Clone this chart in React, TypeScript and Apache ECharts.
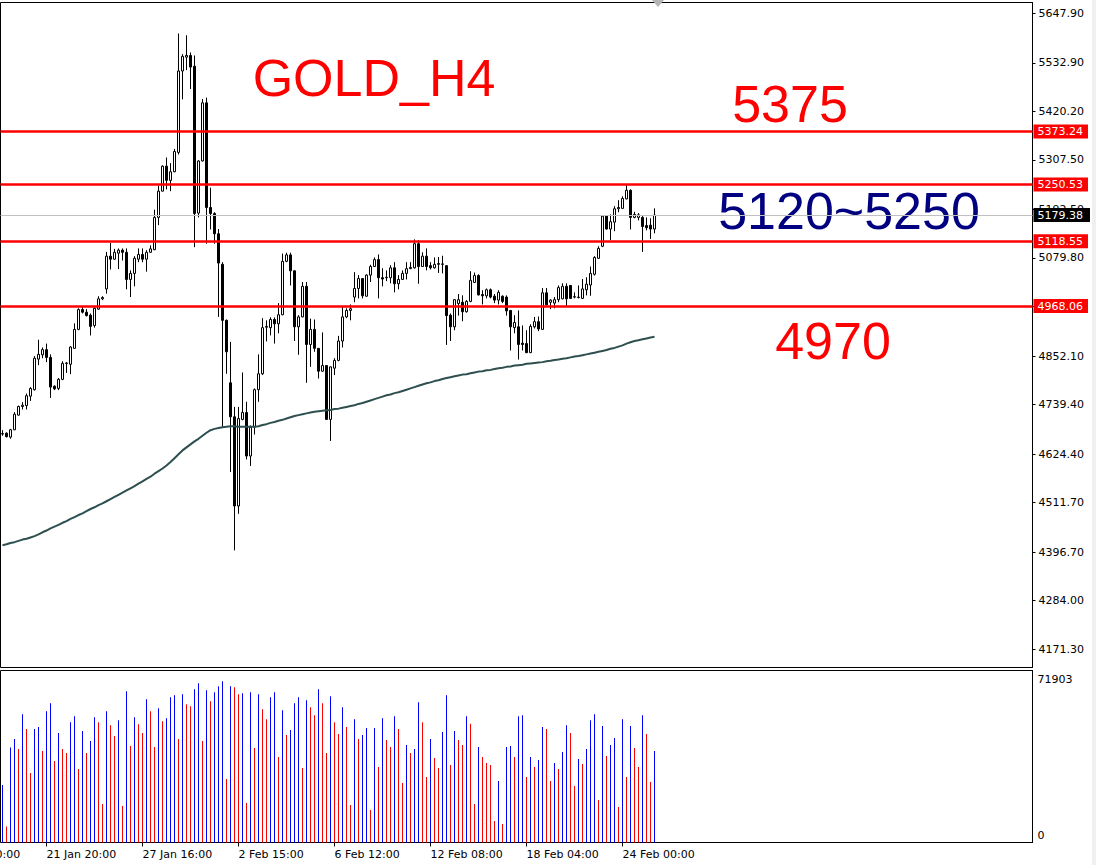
import React, { useEffect, useRef } from "react";
import * as echarts from "echarts";

// ---- data ----
const TOTAL_SLOTS = 258; // visible bar slots (right part left empty as chart shift)

// [open, close, low, high]
const ohlc: number[][] = [
  [4672, 4671, 4667, 4680], [4673, 4665, 4663, 4675], [4664, 4681, 4660, 4683], [4681, 4717, 4680, 4722],
  [4715, 4735, 4714, 4737], [4735, 4738, 4728, 4745], [4737, 4760, 4728, 4765], [4759, 4777, 4748, 4780],
  [4774, 4847, 4772, 4852], [4845, 4856, 4831, 4890], [4855, 4867, 4847, 4872], [4867, 4849, 4838, 4881],
  [4849, 4780, 4755, 4856], [4782, 4776, 4773, 4784], [4777, 4798, 4773, 4801], [4798, 4835, 4796, 4840],
  [4835, 4836, 4813, 4838], [4833, 4873, 4810, 4875], [4870, 4914, 4869, 4928], [4914, 4960, 4912, 4963],
  [4960, 4954, 4951, 4968], [4954, 4946, 4944, 4961], [4947, 4921, 4900, 4951], [4923, 4963, 4918, 4966],
  [4961, 4985, 4960, 4991], [4985, 4988, 4982, 4991], [5008, 5084, 4997, 5094], [5084, 5077, 5053, 5115],
  [5077, 5093, 5076, 5101], [5091, 5098, 5054, 5102], [5098, 5093, 5074, 5102], [5093, 5030, 5007, 5102],
  [5030, 5044, 4989, 5051], [5044, 5079, 5014, 5084], [5077, 5088, 5070, 5102], [5088, 5077, 5070, 5102],
  [5077, 5093, 5048, 5098], [5093, 5101, 5092, 5109], [5099, 5174, 5098, 5192], [5174, 5235, 5156, 5248],
  [5235, 5293, 5234, 5295], [5293, 5260, 5239, 5313], [5260, 5280, 5235, 5300], [5280, 5327, 5279, 5333],
  [5325, 5514, 5320, 5601], [5514, 5548, 5448, 5553], [5546, 5550, 5516, 5597], [5550, 5523, 5472, 5557],
  [5525, 5183, 5105, 5550], [5184, 5305, 5174, 5307], [5305, 5440, 5304, 5449], [5440, 5197, 5113, 5452],
  [5197, 5183, 5146, 5243], [5183, 5136, 5113, 5186], [5136, 5068, 4943, 5147], [5065, 4935, 4687, 5070],
  [4935, 4862, 4811, 4937], [4790, 4711, 4583, 4885], [4711, 4504, 4401, 4734], [4504, 4707, 4486, 4734],
  [4705, 4721, 4703, 4814], [4721, 4620, 4612, 4746], [4620, 4687, 4597, 4691], [4687, 4774, 4670, 4777],
  [4774, 4811, 4746, 4856], [4811, 4918, 4808, 4940], [4919, 4921, 4886, 4935], [4918, 4937, 4900, 4942],
  [4937, 4927, 4881, 4942], [4927, 4948, 4905, 4975], [4948, 5072, 4947, 5090], [5072, 5087, 5070, 5092],
  [5087, 5050, 5016, 5092], [5050, 4920, 4887, 5051], [4920, 4943, 4855, 4947], [4943, 5014, 4942, 5024],
  [5014, 4879, 4790, 5024], [4879, 4914, 4827, 4939], [4914, 4870, 4862, 4937], [4870, 4817, 4800, 4870],
  [4817, 4830, 4816, 4907], [4830, 4705, 4704, 4831], [4705, 4827, 4655, 4828], [4824, 4842, 4808, 4847],
  [4842, 4887, 4840, 4899], [4887, 4943, 4872, 4968], [4943, 4958, 4940, 4963], [4958, 4962, 4935, 4972],
  [4989, 5009, 4977, 5047], [5009, 5032, 4986, 5040], [5032, 4992, 4986, 5033], [4991, 5040, 4990, 5042],
  [5040, 5060, 5024, 5064], [5060, 5076, 5059, 5081], [5076, 5034, 4986, 5088], [5034, 5031, 5014, 5056],
  [5034, 5035, 5026, 5051], [5034, 5057, 5021, 5063], [5057, 5020, 5000, 5070], [5020, 5030, 5007, 5040],
  [5030, 5044, 5029, 5051], [5044, 5055, 5030, 5070], [5055, 5058, 5054, 5070], [5057, 5113, 5055, 5123],
  [5113, 5060, 5020, 5121], [5060, 5084, 5059, 5093], [5084, 5060, 5051, 5102], [5062, 5057, 5053, 5070],
  [5057, 5065, 5055, 5081], [5065, 5067, 5045, 5082], [5065, 5066, 5044, 5085], [5062, 4946, 4878, 5063],
  [4947, 4920, 4887, 4951], [4920, 4983, 4912, 4984], [4974, 4983, 4946, 4996], [4977, 4955, 4933, 4993],
  [4955, 4979, 4953, 4982], [4979, 5028, 4977, 5049], [5023, 5039, 5022, 5046], [5039, 4994, 4993, 5042],
  [4995, 4992, 4972, 5005], [4992, 5006, 4986, 5009], [5006, 4989, 4986, 5009], [4991, 4982, 4975, 4996],
  [4982, 5000, 4972, 5005], [4991, 4979, 4975, 4993], [4989, 4957, 4946, 4993], [4958, 4920, 4865, 4959],
  [4918, 4930, 4905, 4947], [4920, 4879, 4844, 4958], [4882, 4879, 4865, 4923], [4881, 4860, 4859, 4912],
  [4860, 4921, 4859, 4926], [4920, 4932, 4916, 4943], [4932, 4915, 4910, 4944], [4914, 4999, 4913, 5010],
  [4999, 4971, 4970, 5010], [4977, 4982, 4961, 4984], [4975, 4983, 4963, 4989], [4983, 5011, 4977, 5016],
  [4985, 5014, 4984, 5021], [5014, 4985, 4968, 5021], [5016, 4986, 4985, 5017], [4989, 4990, 4986, 5000],
  [4988, 4989, 4986, 5016], [4986, 5008, 4985, 5031], [5006, 5019, 4993, 5035], [5017, 5044, 4992, 5060],
  [5042, 5081, 5039, 5084], [5079, 5102, 5078, 5107], [5107, 5177, 5105, 5179], [5177, 5147, 5146, 5179],
  [5147, 5164, 5121, 5181], [5163, 5194, 5142, 5200], [5194, 5197, 5186, 5214], [5195, 5218, 5194, 5223],
  [5217, 5237, 5216, 5249], [5237, 5174, 5146, 5239], [5174, 5181, 5172, 5187], [5174, 5180, 5167, 5184],
  [5174, 5153, 5094, 5177], [5155, 5150, 5144, 5174], [5156, 5147, 5124, 5172], [5147, 5179.38, 5137, 5195],
];

const volumes: number[] = [
  24047, 6672, 39754, 43229, 39059, 53654, 47399, 29051, 47399, 48233,
  38225, 54905, 58241, 34055, 45731, 39059, 37391, 50318, 52820, 30719,
  46565, 37391, 42395, 52403, 50318, 16124, 54905, 49067, 44480, 51152,
  15290, 63245, 40310, 52403, 49484, 45731, 59909, 54905, 39893, 56156,
  50735, 51986, 60743, 61577, 43229, 61994, 57824, 56990, 64079, 66581,
  42395, 63662, 59075, 62828, 65330, 67415, 26549, 65330, 64913, 61994,
  62411, 16541, 62828, 39476, 61994, 55739, 51569, 60743, 62828, 35723,
  55322, 44897, 46982, 58241, 60743, 31136, 59492, 56573, 53237, 64079,
  58241, 37391, 61160, 50318, 45314, 56573, 48233, 15707, 51569, 43229,
  44897, 47816, 13622, 47816, 31553, 51986, 42812, 39893, 52820, 47399,
  24881, 40727, 37391, 39059, 58658, 50318, 27383, 43229, 35306, 31136,
  46148, 61577, 32387, 46565, 42812, 40727, 52820, 49623, 16124, 39893,
  35723, 33221, 32387, 9035, 25715, 7784, 39893, 40310, 35723, 52820,
  53237, 27383, 35723, 31553, 34472, 48233, 47399, 25715, 33221, 30719,
  37808, 49067, 45731, 23630, 34889, 32804, 39059, 51152, 53654, 17792,
  48650, 36140, 40727, 43646, 14873, 51569, 27383, 48650, 39476, 31553,
  53237, 45314, 25298, 38225,
];

const ma: number[] = [
  4413, 4415, 4418, 4420, 4423, 4426, 4428, 4431, 4434, 4438,
  4443, 4447, 4452, 4456, 4460, 4465, 4469, 4474, 4478, 4483,
  4487, 4492, 4497, 4501, 4506, 4510, 4515, 4520, 4525, 4530,
  4535, 4540, 4545, 4550, 4556, 4561, 4567, 4572, 4579, 4585,
  4591, 4598, 4606, 4615, 4624, 4633, 4640, 4647, 4654, 4660,
  4667, 4674, 4680, 4683, 4685, 4687, 4688, 4689, 4689, 4688,
  4688, 4688, 4688, 4688, 4689, 4692, 4694, 4697, 4699, 4702,
  4704, 4707, 4710, 4713, 4715, 4717, 4719, 4721, 4723, 4724,
  4725, 4726, 4727, 4729, 4730, 4732, 4734, 4736, 4738, 4741,
  4743, 4746, 4749, 4752, 4755, 4758, 4761, 4763, 4766, 4768,
  4771, 4774, 4777, 4780, 4783, 4786, 4789, 4791, 4794, 4796,
  4799, 4801, 4803, 4805, 4807, 4809, 4810, 4812, 4814, 4816,
  4817, 4819, 4820, 4822, 4824, 4825, 4827, 4828, 4830, 4831,
  4832, 4834, 4835, 4836, 4837, 4838, 4840, 4841, 4843, 4844,
  4846, 4847, 4849, 4851, 4852, 4854, 4856, 4858, 4860, 4862,
  4864, 4866, 4869, 4871, 4874, 4877, 4881, 4884, 4887, 4889,
  4891, 4893, 4895, 4897,
];

// bar index -> time label (the first one lies 13 bars before the first visible bar)
const timeLabels: [number, string][] = [
  [-13, "16 Jan 00:00"],
  [11, "21 Jan 20:00"],
  [35, "27 Jan 16:00"],
  [59, "2 Feb 15:00"],
  [83, "6 Feb 12:00"],
  [107, "12 Feb 08:00"],
  [131, "18 Feb 04:00"],
  [155, "24 Feb 00:00"],
];

const priceTicks = [
  5647.9, 5532.9, 5420.2, 5307.5, 5192.5, 5079.8, 4967.1, 4852.1,
  4739.4, 4624.4, 4511.7, 4396.7, 4284.0, 4171.3,
];
const levels = [5373.24, 5250.53, 5118.55, 4968.06];
const lastPrice = 5179.38;
const volumeMax = 71903;
const priceMin = 4129.0;
const priceMax = 5672.97;

const title = "GOLD_H4";
const notes = ["5375", "5120~5250", "4970"];

export default function App() {
  const ref = useRef<HTMLDivElement>(null);

  useEffect(() => {
    document.body.style.margin = "0";
    const chart = echarts.init(ref.current as HTMLDivElement, null, { renderer: "svg" });

    const cats = Array.from({ length: TOTAL_SLOTS }, (_, k) => String(k));
    const labelMap = new Map<number, string>(timeLabels.filter(([i]) => i >= 0));
    const axisFont = "DejaVu Sans";
    const bigFont = '"Liberation Sans", Arial, sans-serif';

    const levelLines = levels.map((v) => ({
      yAxis: v,
      lineStyle: { color: "#ff0000", width: 2.5, type: "solid" },
      label: {
        show: true,
        position: "end",
        distance: 1,
        formatter: v.toFixed(2),
        color: "#ffffff",
        backgroundColor: "#ff0000",
        padding: [2, 5, 1, 4],
        fontSize: 11,
        fontFamily: axisFont,
      },
    }));

    const textStyle = (fill: string) => ({
      fill, font: "52px " + bigFont,
      align: "center", verticalAlign: "middle", textAlign: "center", textVerticalAlign: "middle",
    });

    const option: any = {
      animation: false,
      backgroundColor: "#ffffff",
      textStyle: { fontFamily: axisFont },
      grid: [
        { left: 0.5, width: 1032, top: 2.5, height: 665, show: true, borderColor: "#000", borderWidth: 1, backgroundColor: "transparent" },
        { left: 0.5, width: 1032, top: 670.5, height: 172, show: true, borderColor: "#000", borderWidth: 1, backgroundColor: "transparent" },
      ],
      xAxis: [
        {
          type: "category", gridIndex: 0, data: cats, boundaryGap: true,
          axisLine: { show: false }, axisTick: { show: false }, axisLabel: { show: false }, splitLine: { show: false },
        },
        {
          type: "category", gridIndex: 1, data: cats, boundaryGap: true,
          axisLine: { show: false },
          axisTick: {
            show: true, alignWithLabel: true, length: 4,
            interval: (i: number) => labelMap.has(i),
            lineStyle: { color: "#000" },
          },
          axisLabel: {
            show: true,
            interval: (i: number) => labelMap.has(i),
            formatter: (_v: string, i: number) => labelMap.get(i) ?? "",
            align: "left", color: "#000", fontSize: 11, fontFamily: axisFont, margin: 6,
          },
          splitLine: { show: false },
        },
      ],
      yAxis: [
        {
          type: "value", gridIndex: 0, position: "right", min: priceMin, max: priceMax,
          splitLine: { show: false },
          axisLine: { show: true, lineStyle: { color: "#000" } },
          axisTick: { show: true, customValues: priceTicks, length: 3, lineStyle: { color: "#000" } },
          axisLabel: {
            show: true, customValues: priceTicks,
            formatter: (v: number) => v.toFixed(2),
            color: "#000", fontSize: 11, fontFamily: axisFont, margin: 6,
          },
        },
        {
          type: "value", gridIndex: 1, position: "right", min: 0, max: volumeMax,
          splitLine: { show: false },
          axisLine: { show: true, lineStyle: { color: "#000" } },
          axisTick: { show: false },
          axisLabel: {
            show: true, customValues: [0, volumeMax], margin: 5,
            formatter: (v: number) => (v === 0 ? "{b|0}" : "{t|" + v + "}"),
            rich: {
              t: { padding: [17, 0, 0, 0], fontSize: 11, color: "#000", fontFamily: axisFont },
              b: { padding: [0, 0, 14, 0], fontSize: 11, color: "#000", fontFamily: axisFont },
            },
          },
        },
      ],
      series: [
        {
          type: "candlestick", name: "GOLD", xAxisIndex: 0, yAxisIndex: 0,
          data: ohlc, barWidth: 2,
          itemStyle: { color: "#ffffff", color0: "#000000", borderColor: "#000000", borderColor0: "#000000", borderColorDoji: "#000000", borderWidth: 1 },
          markLine: {
            silent: true, symbol: ["none", "none"], animation: false,
            data: [
              ...levelLines,
              {
                yAxis: lastPrice,
                lineStyle: { color: "#c0c0c0", width: 1, type: "solid" },
                label: {
                  show: true, position: "end", distance: 1,
                  formatter: lastPrice.toFixed(2),
                  color: "#ffffff", backgroundColor: "#000000",
                  padding: [2, 7, 1, 4], fontSize: 11, fontFamily: axisFont,
                },
              },
            ],
          },
        },
        {
          type: "line", name: "MA", xAxisIndex: 0, yAxisIndex: 0,
          data: ma, symbol: "none", z: 3,
          lineStyle: { color: "#2f4f4f", width: 2 },
        },
        {
          type: "bar", name: "Volume", xAxisIndex: 1, yAxisIndex: 1,
          data: volumes, barWidth: 1,
          itemStyle: {
            color: (p: any) => {
              const i = p.dataIndex;
              return i === 0 || volumes[i] > volumes[i - 1] ? "#0000ff" : "#ff0000";
            },
          },
        },
      ],
      graphic: [
        { type: "rect", shape: { x: 1092, y: 0, width: 4, height: 865 }, style: { fill: "#f0f0f0" }, silent: true },
        { type: "polygon", shape: { points: [[652, 0], [664, 0], [658, 7]] }, style: { fill: "#b4b4b4" }, silent: true },
        { type: "text", x: 374, y: 78, silent: true, style: { text: title, ...textStyle("#ff0000") } },
        { type: "text", x: 790, y: 104, silent: true, style: { text: notes[0], ...textStyle("#ff0000") } },
        { type: "text", x: 849, y: 211, silent: true, style: { text: notes[1], ...textStyle("#000080") } },
        { type: "text", x: 833, y: 341, silent: true, style: { text: notes[2], ...textStyle("#ff0000") } },
      ],
    };

    chart.setOption(option);

    // time label that lies before the first visible bar: place it through the axis scale
    const first = timeLabels.find(([i]) => i < 0);
    if (first) {
      const x0 = chart.convertToPixel({ xAxisIndex: 1 }, "0") as number;
      const x1 = chart.convertToPixel({ xAxisIndex: 1 }, "1") as number;
      const yb = chart.convertToPixel({ yAxisIndex: 1 }, 0) as number;
      const x = x0 + (x1 - x0) * first[0];
      chart.setOption({
        graphic: [
          {
            type: "text", id: "firstTime", x, y: yb + 6, silent: true,
            style: { text: first[1], fill: "#000", font: "11px " + axisFont, align: "left", verticalAlign: "top", textAlign: "left", textVerticalAlign: "top" },
          },
        ],
      });
    }

    return () => chart.dispose();
  }, []);

  return (
    <div
      ref={ref}
      style={{ position: "absolute", left: 0, top: 0, width: 1096, height: 865, background: "#fff" }}
    />
  );
}
